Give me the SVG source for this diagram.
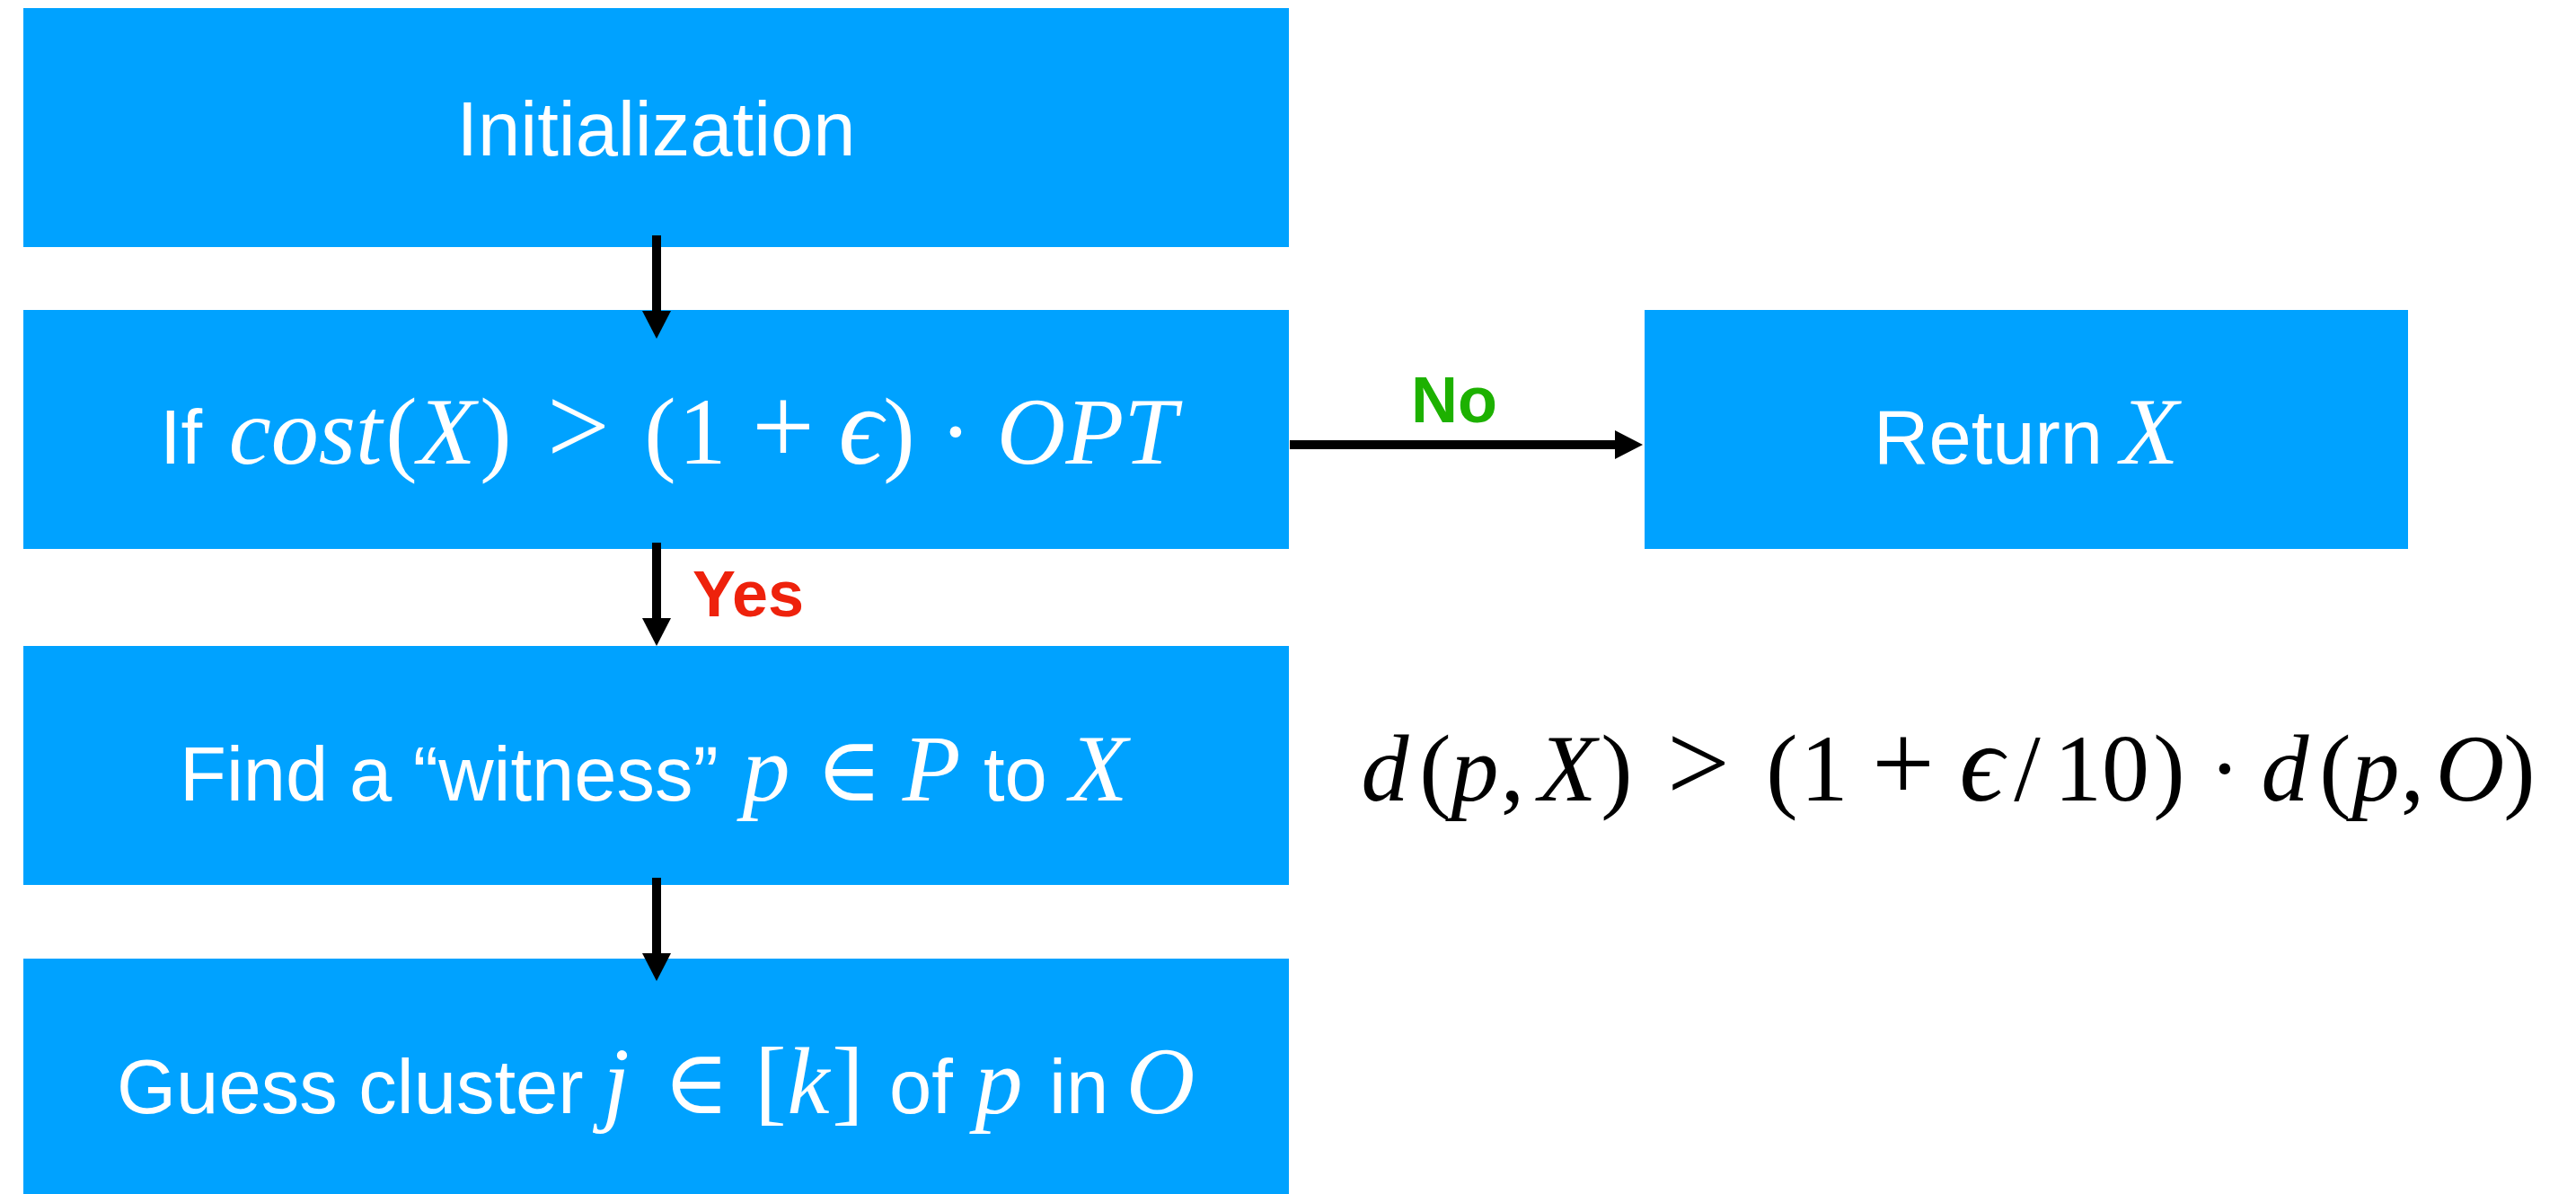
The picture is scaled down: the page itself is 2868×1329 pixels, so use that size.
<svg xmlns="http://www.w3.org/2000/svg" width="2868" height="1329" viewBox="0 0 2868 1329">
<style>
.box{fill:#00A2FF}
.t{font-family:"Liberation Sans",Arial,sans-serif;font-size:85px;fill:#fff}
.m{font-family:"Liberation Serif","DejaVu Serif",serif;font-size:106px;text-anchor:middle}
.i{font-style:italic}
.op{font-size:124px}
.ep{font-size:122px}
.w{fill:#fff}
.k{fill:#000}
.conn{stroke:#000;stroke-width:10;fill:none}
.lbl{font-family:"Liberation Sans",Arial,sans-serif;font-size:72px;font-weight:bold}
.el{font-family:"DejaVu Serif",serif;font-size:100px;text-anchor:middle}
</style>
<defs>
<marker id="ah" markerUnits="userSpaceOnUse" markerWidth="31" markerHeight="32" refX="0" refY="16" orient="auto">
<path d="M0,0 L31,16 L0,32 z" fill="#000"/>
</marker>
</defs>
<rect width="2868" height="1329" fill="#fff"/>
<g id="init">
<rect class="box" x="26" y="9" width="1409" height="266"/>
<text class="t" x="730.5" y="173" text-anchor="middle" font-size="84">Initialization</text>
</g>
<g id="check">
<rect class="box" x="26" y="345" width="1409" height="266"/>
<text class="t" x="178" y="516">If</text>
<text class="m w" y="516"><tspan class="i" x="340">cost</tspan><tspan x="447">(</tspan><tspan class="i" x="497">X</tspan><tspan x="552">)</tspan><tspan class="op" x="644">&gt;</tspan><tspan x="735">(</tspan><tspan x="782">1</tspan><tspan class="op" x="872">+</tspan><tspan class="i ep" x="958">ϵ</tspan><tspan x="1001">)</tspan><tspan x="1064">·</tspan><tspan class="i" x="1210">OPT</tspan></text>
</g>
<g id="ret">
<rect class="box" x="1831" y="345" width="850" height="266"/>
<text class="t" x="2086" y="516">Return</text>
<text class="m w i" x="2393" y="516">X</text>
</g>
<g id="witness">
<rect class="box" x="26" y="719" width="1409" height="266"/>
<text class="t" x="200" y="891">Find a “witness”</text>
<text class="m w i" x="853" y="891">p</text>
<text class="el w" x="945" y="891">∈</text>
<text class="m w i" x="1037" y="891">P</text>
<text class="t" x="1095" y="891">to</text>
<text class="m w i" x="1223" y="891">X</text>
</g>
<g id="guess">
<rect class="box" x="26" y="1067" width="1409" height="262"/>
<text class="t" x="130" y="1239">Guess cluster</text>
<text class="m w i" x="686" y="1239">j</text>
<text class="el w" x="775" y="1239">∈</text>
<text class="m w" x="858" y="1239">[</text>
<text class="m w i" x="900" y="1239">k</text>
<text class="m w" x="944" y="1239">]</text>
<text class="t" x="990" y="1239">of</text>
<text class="m w i" x="1112" y="1239">p</text>
<text class="t" x="1168" y="1239">in</text>
<text class="m w i" x="1292" y="1239">O</text>
</g>
<g id="formula">
<text class="m k" y="891"><tspan class="i" x="1542">d</tspan><tspan x="1598">(</tspan><tspan class="i" x="1642">p</tspan><tspan x="1684">,</tspan><tspan class="i" x="1745">X</tspan><tspan x="1800">)</tspan><tspan class="op" x="1891">&gt;</tspan><tspan x="1984">(</tspan><tspan x="2031">1</tspan><tspan class="op" x="2119">+</tspan><tspan class="i ep" x="2206">ϵ</tspan><tspan x="2257">/</tspan><tspan x="2340">10</tspan><tspan x="2415">)</tspan><tspan x="2477">·</tspan><tspan class="i" x="2544">d</tspan><tspan x="2600">(</tspan><tspan class="i" x="2645">p</tspan><tspan x="2686">,</tspan><tspan class="i" x="2750">O</tspan><tspan x="2805">)</tspan></text>
</g>
<g id="connectors">
<path class="conn" d="M731,262 V346" marker-end="url(#ah)"/>
<path class="conn" d="M731,604 V688" marker-end="url(#ah)"/>
<path class="conn" d="M731,977 V1061" marker-end="url(#ah)"/>
<path class="conn" d="M1436,495 H1798" marker-end="url(#ah)"/>
<text class="lbl" x="771" y="686" fill="#EE220C">Yes</text>
<text class="lbl" x="1571" y="470" fill="#1DB100">No</text>
</g>
</svg>
